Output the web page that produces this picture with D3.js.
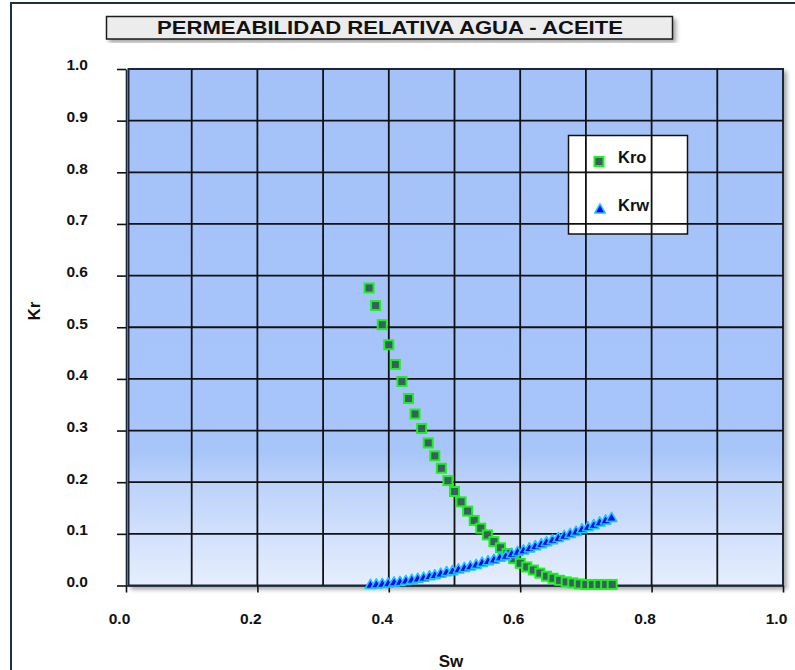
<!DOCTYPE html>
<html lang="es">
<head>
<meta charset="UTF-8" />
<title>Permeabilidad relativa agua - aceite</title>
<script src="https://d3js.org/d3.v7.min.js"></script>
<style>
  body { margin: 0; background: #fff; }
  svg { display: block; font-family: "Liberation Sans", Arial, sans-serif; }
</style>
</head>
<body>
<svg width="795" height="670"></svg>
<script>
// Datos
const swKro = [0.37, 0.38, 0.39, 0.40, 0.41, 0.42, 0.43, 0.44, 0.45, 0.46,
               0.47, 0.48, 0.49, 0.50, 0.51, 0.52, 0.53, 0.54, 0.55, 0.56,
               0.57, 0.58, 0.59, 0.60, 0.61, 0.62, 0.63, 0.64, 0.65, 0.66,
               0.67, 0.68, 0.69, 0.70, 0.71, 0.72, 0.73, 0.74];
const kro = [0.576, 0.542, 0.505, 0.466, 0.428, 0.395, 0.362, 0.332, 0.304, 0.276,
             0.251, 0.227, 0.203, 0.182, 0.162, 0.144, 0.126, 0.111, 0.098, 0.085,
             0.073, 0.062, 0.052, 0.043, 0.036, 0.030, 0.024, 0.018, 0.014, 0.010,
             0.007, 0.005, 0.003, 0.002, 0.002, 0.002, 0.002, 0.002];

const swKrw = [0.372, 0.381, 0.390, 0.399, 0.408, 0.417, 0.426, 0.435, 0.444, 0.453,
               0.462, 0.470, 0.479, 0.488, 0.497, 0.506, 0.515, 0.524, 0.533, 0.542,
               0.551, 0.560, 0.569, 0.578, 0.587, 0.596, 0.605, 0.614, 0.623, 0.632,
               0.640, 0.649, 0.658, 0.667, 0.676, 0.685, 0.694, 0.703, 0.712, 0.721,
               0.730, 0.739];
const krw = [0.000, 0.001, 0.002, 0.003, 0.005, 0.006, 0.008, 0.010, 0.012, 0.014,
             0.017, 0.019, 0.022, 0.025, 0.027, 0.030, 0.033, 0.036, 0.039, 0.043,
             0.046, 0.049, 0.053, 0.056, 0.060, 0.064, 0.067, 0.071, 0.075, 0.079,
             0.083, 0.087, 0.091, 0.095, 0.099, 0.103, 0.108, 0.112, 0.116, 0.121,
             0.125, 0.130];

const xTicks = [0, 0.2, 0.4, 0.6, 0.8, 1.0];
const yTicks = [0, 0.1, 0.2, 0.3, 0.4, 0.5, 0.6, 0.7, 0.8, 0.9, 1.0];
const gridVals = [0.1, 0.2, 0.3, 0.4, 0.5, 0.6, 0.7, 0.8, 0.9];
const seriesNames = ["Kro", "Krw"];
const title = "PERMEABILIDAD RELATIVA AGUA - ACEITE";

const svg = d3.select("svg");
const x = d3.scaleLinear().domain([0, 1]).range([126, 783]);
const y = d3.scaleLinear().domain([0, 1]).range([585.5, 69]);

// degradado de fondo y sombras
const defs = svg.append("defs");
const grad = defs.append("linearGradient")
    .attr("id", "bg").attr("x1", 0).attr("y1", 0).attr("x2", 0).attr("y2", 1);
grad.append("stop").attr("offset", "0").attr("stop-color", "#a4c2f9");
grad.append("stop").attr("offset", "0.74").attr("stop-color", "#a7c5f9");
grad.append("stop").attr("offset", "0.80").attr("stop-color", "#bcd2fa");
grad.append("stop").attr("offset", "1").attr("stop-color", "#e6eefd");

const shadow = defs.append("filter").attr("id", "shadow")
    .attr("x", "-5%").attr("y", "-5%").attr("width", "115%").attr("height", "120%");
shadow.append("feDropShadow").attr("dx", 3).attr("dy", 3)
    .attr("stdDeviation", 2).attr("flood-color", "#000").attr("flood-opacity", 0.35);

// marco exterior
svg.append("rect")
    .attr("x", 11).attr("y", 3).attr("width", 820).attr("height", 720)
    .attr("fill", "none").attr("stroke", "#1f2f45").attr("stroke-width", 2);

// titulo
svg.append("rect")
    .attr("x", 106.5).attr("y", 16.5).attr("width", 566).attr("height", 22.5)
    .attr("fill", "#ececec").attr("stroke", "#1a1a1a").attr("stroke-width", 1.5)
    .attr("filter", "url(#shadow)");
svg.append("text")
    .attr("x", 390).attr("y", 34)
    .attr("text-anchor", "middle")
    .attr("font-size", 19).attr("font-weight", "bold").attr("fill", "#111")
    .attr("textLength", 466).attr("lengthAdjust", "spacingAndGlyphs")
    .text(title);

// area de trazado
svg.append("rect")
    .attr("x", 128.5).attr("y", y(1)).attr("width", x(1) - 128.5).attr("height", y(0) - y(1))
    .attr("fill", "url(#bg)").attr("stroke", "#1b2838").attr("stroke-width", 2)
    .attr("filter", "url(#shadow)");

// caja de la leyenda (la cuadricula pasa por encima)
svg.append("rect")
    .attr("x", 568.5).attr("y", 135.5).attr("width", 119).attr("height", 98.5)
    .attr("fill", "#fff").attr("stroke", "#111").attr("stroke-width", 1.5);

// cuadricula
svg.append("g").selectAll("line").data(gridVals).join("line")
    .attr("x1", d => x(d)).attr("x2", d => x(d))
    .attr("y1", y(1)).attr("y2", y(0))
    .attr("stroke", "#111").attr("stroke-width", 1.8);
svg.append("g").selectAll("line").data(gridVals).join("line")
    .attr("x1", 128.5).attr("x2", x(1))
    .attr("y1", d => y(d)).attr("y2", d => y(d))
    .attr("stroke", "#111").attr("stroke-width", 1.8);

// ejes
const fmt = d3.format(".1f");
const xAxis = svg.append("g")
    .attr("transform", `translate(0,${y(0)})`)
    .call(d3.axisBottom(x).tickValues(xTicks).tickFormat(fmt)
        .tickSize(7).tickSizeOuter(0).tickPadding(20));
const yAxis = svg.append("g")
    .attr("transform", `translate(${x(0)},0)`)
    .call(d3.axisLeft(y).tickValues(yTicks).tickFormat(fmt)
        .tickSize(9).tickSizeOuter(0).tickPadding(29));

[xAxis, yAxis].forEach(a => {
    a.select(".domain").attr("stroke", "#1b2838").attr("stroke-width", 1.6);
    a.selectAll(".tick line").attr("stroke", "#111").attr("stroke-width", 1.6);
    a.selectAll("text")
        .attr("font-size", 15.5).attr("font-weight", "bold")
        .attr("font-family", "'Liberation Sans', Arial, sans-serif")
        .attr("fill", "#111");
});
xAxis.selectAll("text").attr("dx", -7);
yAxis.selectAll("text").attr("y", -4);

// titulos de ejes
svg.append("text")
    .attr("x", 451).attr("y", 667).attr("text-anchor", "middle")
    .attr("font-size", 17).attr("font-weight", "bold").attr("fill", "#111")
    .text("Sw");
svg.append("text")
    .attr("transform", "translate(40,311) rotate(-90)")
    .attr("text-anchor", "middle")
    .attr("font-size", 17).attr("font-weight", "bold").attr("fill", "#111")
    .text("Kr");

// simbolos
const tri = d3.symbol(d3.symbolTriangle, 48);
function square(sel) {
    sel.attr("width", 9).attr("height", 9)
        .attr("fill", "#37605f").attr("stroke", "#1df01d").attr("stroke-width", 2);
}
function triangle(sel) {
    sel.attr("d", tri)
        .attr("fill", "#0000ff").attr("stroke", "#19c6ff").attr("stroke-width", 1.6)
        .attr("stroke-linejoin", "round");
}

// leyenda: simbolos y texto
const legend = svg.append("g");
legend.append("rect").attr("x", 594.5).attr("y", 157).call(square);
legend.append("path").attr("transform", "translate(600,210)").call(triangle);
legend.selectAll("text").data(seriesNames).join("text")
    .attr("x", 618).attr("y", (d, i) => i === 0 ? 162.5 : 210.8)
    .attr("font-size", 16.5).attr("font-weight", "bold").attr("fill", "#111")
    .text(d => d);

// serie Kro
const kroData = swKro.map((s, i) => ({ s, v: kro[i] }));
svg.append("g").selectAll("rect").data(kroData).join("rect")
    .attr("x", d => x(d.s) - 4.5).attr("y", d => y(d.v) - 4.5)
    .call(square);

// serie Krw
const krwData = swKrw.map((s, i) => ({ s, v: krw[i] }));
svg.append("g").selectAll("path").data(krwData).join("path")
    .attr("transform", d => `translate(${x(d.s)},${y(d.v)})`)
    .call(triangle);
</script>
</body>
</html>
